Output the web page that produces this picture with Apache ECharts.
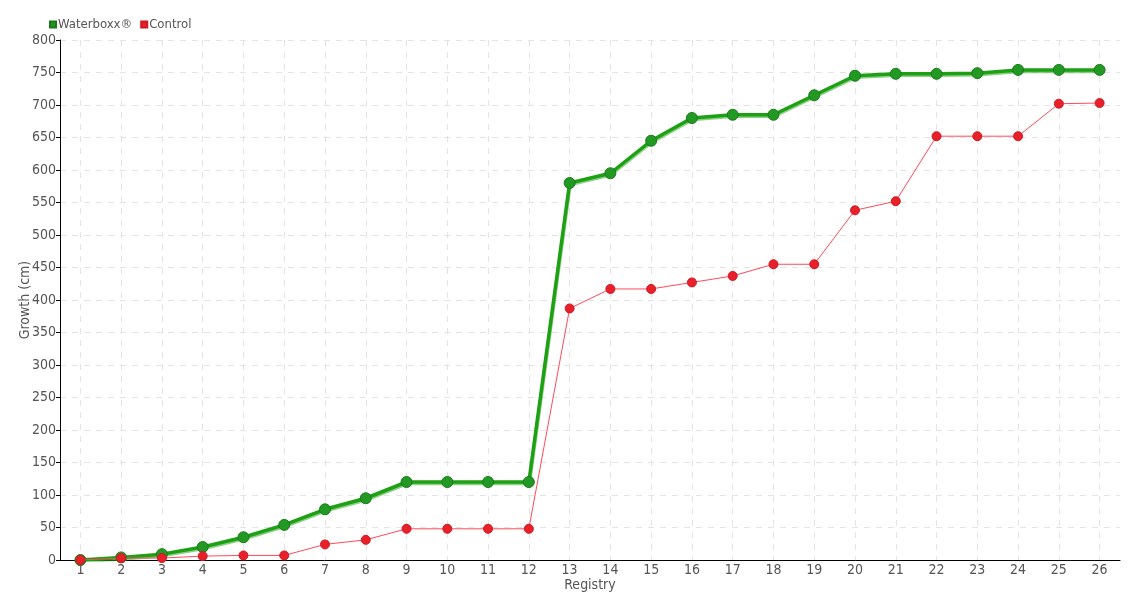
<!DOCTYPE html>
<html><head><meta charset="utf-8">
<script src="https://cdn.jsdelivr.net/npm/echarts@6/dist/echarts.min.js"></script>
<style>html,body{margin:0;padding:0;background:#fff}#c{width:1140px;height:600px}</style>
</head><body><div id="c"></div>
<script>
const categories = ['1','2','3','4','5','6','7','8','9','10','11','12','13','14','15','16','17','18','19','20','21','22','23','24','25','26'];
const waterboxx = [0,4,9,20,35,54,78,95,120,120,120,120,580,595,645,680,685,685,715,745,748,748,749,754,754,754];
const control = [0,3,3,6,7,7,24,31,48,48,48,48,387,417,417,427,437,455,455,538,552,652,652,652,702,703];
const seriesNames = ['Waterboxx®','Control'];

const font = '"DejaVu Sans Condensed", "Liberation Sans Narrow", sans-serif';
const W = 1140, L = 60, R = 20;
const step = (W - L - R) / categories.length;
const chart = echarts.init(document.getElementById('c'));
chart.setOption({
  animation: false,
  textStyle: {fontFamily: font},
  legend: {
    left: 44, top: 13, itemWidth: 6, itemHeight: 6, itemGap: 8,
    icon: 'rect',
    textStyle: {color: '#555', fontSize: 13, fontFamily: font, padding: [0,0,0,-3]},
    data: seriesNames
  },
  grid: [
    {left: L, right: R, top: 40, bottom: 40, containLabel: false, outerBoundsMode: 'none'},
    {left: L + step / 2, right: R + step / 2, top: 40, bottom: 40, containLabel: false, outerBoundsMode: 'none'}
  ],
  xAxis: [{
    type: 'category', data: categories, boundaryGap: true, gridIndex: 0,
    name: 'Registry', nameLocation: 'middle', nameGap: 18, nameMoveOverlap: false,
    nameTextStyle: {color: '#555', fontSize: 14, fontFamily: font},
    axisLine: {lineStyle: {color: '#000', width: 1}},
    axisTick: {alignWithLabel: true, length: 4, lineStyle: {color: '#000'}},
    axisLabel: {color: '#555', fontSize: 14, fontFamily: font, margin: 3},
    splitLine: {show: false}
  }, {
    type: 'category', data: categories, boundaryGap: false, gridIndex: 1,
    axisLine: {show: false}, axisTick: {show: false}, axisLabel: {show: false},
    splitLine: {show: true, lineStyle: {color: '#e4e4e4', type: [6,6]}}
  }],
  yAxis: [{
    type: 'value', min: 0, max: 800, interval: 50, gridIndex: 0,
    name: 'Growth (cm)', nameLocation: 'middle', nameGap: 28, nameRotate: 90, nameMoveOverlap: false,
    nameTextStyle: {color: '#555', fontSize: 14, fontFamily: font},
    axisLine: {show: true, lineStyle: {color: '#000', width: 1}},
    axisTick: {show: true, length: 4, lineStyle: {color: '#000'}},
    axisLabel: {color: '#555', fontSize: 14, fontFamily: font, margin: 4},
    splitLine: {show: true, lineStyle: {color: '#e4e4e4', type: [6,6]}}
  }, {
    type: 'value', min: 0, max: 800, gridIndex: 1, show: false,
    splitLine: {show: false}
  }],
  series: [
    {
      name: seriesNames[0], type: 'line', data: waterboxx,
      symbol: 'circle', symbolSize: 11,
      itemStyle: {color: '#229922', borderColor: '#1a7a1a', borderWidth: 1},
      lineStyle: {color: '#1ea014', width: 3.5, shadowColor: 'rgba(40,170,30,0.55)', shadowOffsetY: 1.5, shadowOffsetX: 0.5},
      z: 2
    },
    {
      name: seriesNames[1], type: 'line', data: control,
      symbol: 'circle', symbolSize: 9,
      itemStyle: {color: '#e8202a', borderColor: '#d01822', borderWidth: 1},
      lineStyle: {color: '#ff4a5a', width: 1},
      z: 3
    }
  ]
});
</script></body></html>
